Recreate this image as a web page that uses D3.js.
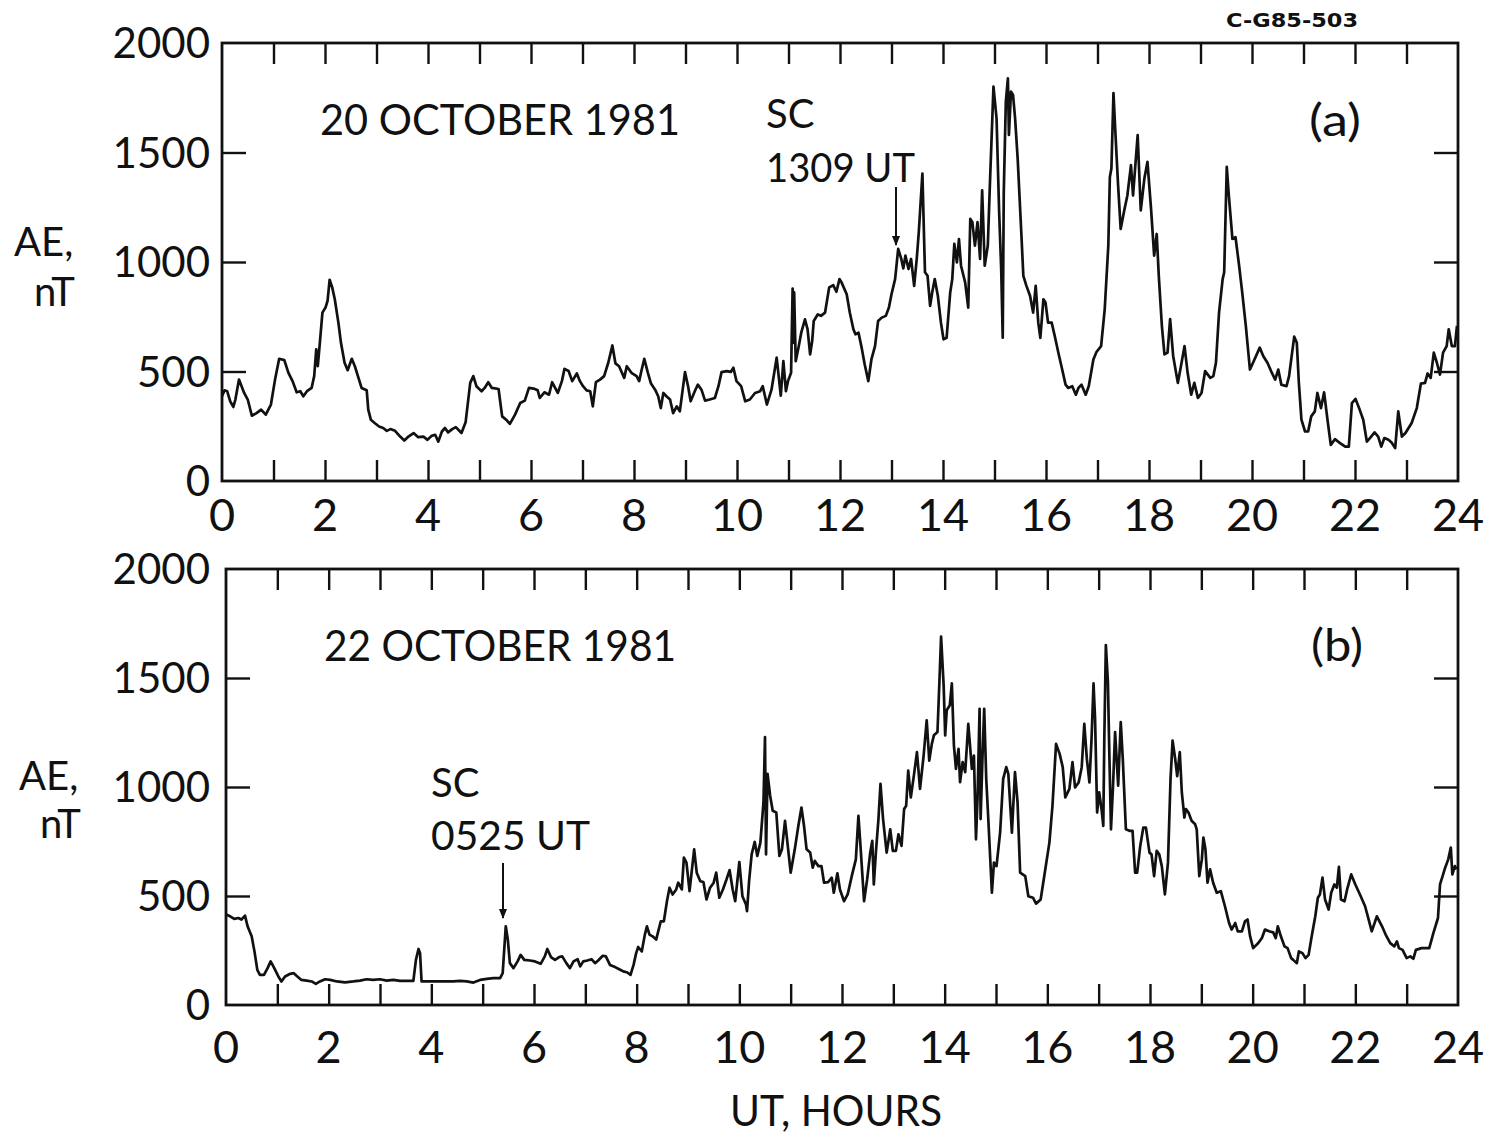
<!DOCTYPE html>
<html>
<head>
<meta charset="utf-8">
<script src="https://cdn.jsdelivr.net/npm/d3@7"></script>
<style>
  body { margin: 0; background: #fff; }
  svg { display: block; }
</style>
</head>
<body>
<script>
// AE index, 20 October 1981 (hours UT, nT)
const oct20 = [
  [0,387],[0.05,414],[0.1,410],[0.16,364],[0.22,338],[0.26,372],[0.33,463],[0.38,433],[0.43,402],[0.5,372],
  [0.58,298],[0.67,310],[0.76,326],[0.85,303],[0.95,349],[1.03,463],[1.11,558],[1.21,552],[1.29,494],[1.37,456],
  [1.45,405],[1.52,410],[1.58,387],[1.65,410],[1.74,425],[1.79,479],[1.83,601],[1.86,524],[1.9,631],[1.95,769],
  [2.01,792],[2.05,823],[2.09,919],[2.14,884],[2.19,830],[2.26,723],[2.31,631],[2.38,540],[2.44,506],[2.52,558],
  [2.58,524],[2.65,471],[2.71,425],[2.81,414],[2.84,326],[2.89,280],[2.97,264],[3.05,249],[3.13,242],[3.2,229],
  [3.27,237],[3.36,229],[3.46,203],[3.54,185],[3.62,203],[3.72,219],[3.81,200],[3.91,203],[3.99,188],[4.07,206],
  [4.14,211],[4.2,180],[4.27,226],[4.33,242],[4.39,222],[4.47,237],[4.54,246],[4.65,219],[4.73,268],[4.82,448],
  [4.88,479],[4.94,433],[5.04,410],[5.1,425],[5.17,451],[5.24,425],[5.37,420],[5.44,295],[5.53,277],[5.59,261],
  [5.69,303],[5.79,356],[5.88,367],[5.96,425],[6.05,422],[6.13,414],[6.17,379],[6.26,405],[6.35,394],[6.41,451],
  [6.52,402],[6.6,456],[6.65,512],[6.73,502],[6.8,456],[6.89,491],[6.95,456],[7.01,433],[7.08,414],[7.15,410],
  [7.2,341],[7.26,451],[7.34,463],[7.42,479],[7.5,540],[7.58,619],[7.64,537],[7.71,524],[7.81,471],[7.86,524],
  [7.95,494],[8.05,479],[8.1,456],[8.15,509],[8.2,558],[8.27,494],[8.33,445],[8.41,417],[8.47,387],[8.52,333],
  [8.57,402],[8.63,387],[8.7,372],[8.76,310],[8.83,341],[8.89,318],[8.99,497],[9.05,433],[9.1,364],[9.18,410],
  [9.24,440],[9.31,417],[9.38,367],[9.47,372],[9.57,379],[9.64,433],[9.7,497],[9.8,502],[9.88,498],[9.93,517],
  [9.99,456],[10.08,433],[10.16,364],[10.25,372],[10.35,402],[10.45,410],[10.5,433],[10.58,349],[10.67,417],[10.77,563],
  [10.82,456],[10.85,390],[10.9,547],[10.95,410],[10.99,456],[11.05,494],[11.08,879],[11.1,631],[11.11,861],[11.14,547],
  [11.2,616],[11.25,680],[11.32,738],[11.37,693],[11.42,578],[11.46,639],[11.49,731],[11.57,761],[11.63,754],[11.71,769],
  [11.79,884],[11.87,894],[11.93,864],[11.99,922],[12.03,907],[12.13,853],[12.19,769],[12.26,693],[12.3,670],[12.36,677],
  [12.42,609],[12.48,532],[12.55,456],[12.61,555],[12.68,616],[12.74,731],[12.81,746],[12.89,754],[12.95,792],[13.0,853],
  [13.07,922],[13.13,1060],[13.19,1014],[13.23,971],[13.27,1029],[13.33,968],[13.38,1014],[13.44,891],[13.49,1014],[13.53,1136],
  [13.6,1404],[13.65,953],[13.7,937],[13.75,800],[13.79,861],[13.84,922],[13.9,846],[13.96,723],[14.01,647],[14.07,654],
  [14.14,861],[14.18,922],[14.22,1083],[14.27,998],[14.31,1105],[14.35,983],[14.43,907],[14.49,792],[14.53,1197],[14.57,1182],
  [14.62,1075],[14.67,1182],[14.72,1014],[14.76,1327],[14.81,983],[14.87,1075],[14.91,1350],[14.98,1801],[15.04,1656],[15.09,1228],
  [15.13,968],[15.16,654],[15.18,1320],[15.22,1732],[15.26,1839],[15.28,1580],[15.32,1778],[15.36,1763],[15.4,1656],[15.45,1472],
  [15.52,1136],[15.56,937],[15.62,891],[15.69,846],[15.75,769],[15.8,891],[15.85,723],[15.89,654],[15.95,830],[15.99,815],
  [16.04,723],[16.11,723],[16.17,662],[16.24,586],[16.3,524],[16.38,440],[16.43,425],[16.51,433],[16.58,394],[16.63,425],
  [16.69,440],[16.77,394],[16.83,433],[16.92,555],[16.98,589],[17.07,616],[17.14,784],[17.21,1075],[17.24,1388],[17.27,1427],
  [17.31,1771],[17.35,1580],[17.4,1350],[17.45,1151],[17.52,1236],[17.58,1304],[17.65,1442],[17.69,1304],[17.78,1580],[17.84,1236],
  [17.91,1381],[17.97,1457],[18.04,1243],[18.1,1029],[18.15,1128],[18.19,937],[18.25,708],[18.3,578],[18.36,586],[18.41,739],
  [18.47,570],[18.56,448],[18.62,524],[18.69,616],[18.75,494],[18.82,394],[18.88,448],[18.95,379],[19.02,402],[19.09,502],
  [19.19,471],[19.25,479],[19.3,540],[19.36,769],[19.43,922],[19.46,953],[19.51,1434],[19.55,1304],[19.62,1106],[19.68,1113],
  [19.75,983],[19.81,861],[19.88,708],[19.96,509],[20.02,540],[20.15,609],[20.22,570],[20.3,540],[20.37,502],[20.45,463],
  [20.51,509],[20.57,440],[20.67,433],[20.72,479],[20.77,570],[20.82,659],[20.87,631],[20.91,448],[20.96,280],[21.03,226],
  [21.09,226],[21.15,295],[21.22,318],[21.27,402],[21.34,333],[21.4,405],[21.47,272],[21.53,165],[21.61,191],[21.71,173],
  [21.81,157],[21.88,157],[21.94,356],[22.01,375],[22.09,326],[22.16,280],[22.23,180],[22.29,196],[22.38,222],[22.45,203],
  [22.51,157],[22.57,196],[22.65,188],[22.71,176],[22.78,150],[22.84,318],[22.91,203],[22.98,219],[23.1,265],[23.2,333],
  [23.28,445],[23.36,448],[23.41,491],[23.47,471],[23.53,586],[23.59,540],[23.65,486],[23.71,586],[23.78,616],[23.82,693],
  [23.88,616],[23.94,616],[23.98,708]
];

// AE index, 22 October 1981 (hours UT, nT)
const oct22 = [
  [0,415],[0.08,407],[0.16,395],[0.24,399],[0.3,392],[0.37,410],[0.42,361],[0.5,315],[0.56,238],[0.61,161],
  [0.66,138],[0.74,138],[0.81,169],[0.87,200],[0.94,169],[1.02,131],[1.08,108],[1.15,131],[1.25,143],[1.32,146],
  [1.39,131],[1.47,115],[1.57,112],[1.67,108],[1.75,97],[1.83,108],[1.93,118],[2.03,115],[2.16,108],[2.32,104],
  [2.48,108],[2.61,112],[2.74,118],[2.87,115],[3.0,118],[3.13,112],[3.26,115],[3.39,111],[3.52,111],[3.65,111],
  [3.7,207],[3.75,257],[3.78,238],[3.81,108],[3.91,108],[4.17,108],[4.43,108],[4.56,111],[4.69,108],[4.82,103],
  [4.95,115],[5.08,120],[5.21,123],[5.34,123],[5.39,146],[5.45,361],[5.49,300],[5.53,192],[5.6,169],[5.68,200],
  [5.74,230],[5.81,207],[5.92,204],[6.02,200],[6.13,189],[6.21,223],[6.26,257],[6.33,220],[6.41,207],[6.49,220],
  [6.55,223],[6.63,192],[6.7,169],[6.77,200],[6.85,210],[6.9,177],[6.96,200],[7.04,204],[7.12,210],[7.19,192],
  [7.25,204],[7.34,226],[7.4,223],[7.48,184],[7.58,174],[7.66,164],[7.74,154],[7.82,149],[7.88,138],[7.94,184],
  [7.99,238],[8.03,266],[8.1,246],[8.16,323],[8.2,361],[8.25,323],[8.31,315],[8.38,300],[8.42,338],[8.47,384],
  [8.53,384],[8.59,476],[8.64,538],[8.7,507],[8.77,530],[8.81,561],[8.88,530],[8.92,676],[8.97,653],[9.03,522],
  [9.12,714],[9.17,607],[9.24,568],[9.3,564],[9.36,484],[9.43,538],[9.5,561],[9.55,607],[9.61,492],[9.68,530],
  [9.75,576],[9.81,619],[9.87,530],[9.92,476],[10.0,656],[10.06,499],[10.13,461],[10.15,430],[10.19,568],[10.24,691],
  [10.3,748],[10.35,684],[10.41,745],[10.47,929],[10.5,1229],[10.52,691],[10.55,1060],[10.6,960],[10.65,891],[10.72,883],
  [10.78,684],[10.83,714],[10.89,845],[10.93,760],[11.0,607],[11.08,714],[11.15,822],[11.21,906],[11.26,822],[11.31,714],
  [11.38,699],[11.43,630],[11.47,661],[11.54,637],[11.6,637],[11.65,561],[11.73,564],[11.8,584],[11.84,515],[11.91,604],
  [11.96,530],[12.04,476],[12.11,507],[12.19,591],[12.27,668],[12.32,868],[12.36,730],[12.43,476],[12.49,576],[12.55,699],
  [12.59,753],[12.62,553],[12.66,699],[12.71,853],[12.75,1014],[12.8,853],[12.87,699],[12.94,806],[12.99,707],[13.05,707],
  [13.1,783],[13.16,730],[13.21,899],[13.25,914],[13.29,1075],[13.34,952],[13.4,1052],[13.46,1160],[13.52,991],[13.59,1144],
  [13.65,1306],[13.7,1121],[13.75,1198],[13.79,1237],[13.86,1252],[13.9,1498],[13.93,1690],[13.98,1467],[14.01,1237],[14.04,1352],
  [14.1,1375],[14.14,1475],[14.18,1191],[14.22,1083],[14.27,1175],[14.3,1022],[14.35,1114],[14.4,1068],[14.46,1290],[14.53,1083],
  [14.57,1144],[14.61,760],[14.64,945],[14.68,1359],[14.7,853],[14.74,1160],[14.77,1359],[14.81,1037],[14.85,853],[14.92,515],
  [14.96,653],[15.01,637],[15.08,791],[15.14,1037],[15.2,1091],[15.24,1060],[15.31,791],[15.37,1068],[15.42,929],[15.47,607],
  [15.57,591],[15.63,499],[15.72,492],[15.78,465],[15.87,484],[15.95,607],[16.04,745],[16.1,914],[16.17,1198],[16.24,1152],
  [16.3,1091],[16.35,952],[16.43,991],[16.49,1114],[16.54,998],[16.61,1021],[16.67,1091],[16.72,1290],[16.77,1129],[16.82,1021],
  [16.86,1214],[16.9,1475],[16.93,1313],[16.97,883],[17.01,975],[17.06,891],[17.09,822],[17.11,1221],[17.14,1651],[17.18,1482],
  [17.21,1129],[17.24,806],[17.28,1006],[17.32,1252],[17.35,1129],[17.38,1006],[17.43,1298],[17.47,1129],[17.53,806],[17.6,799],
  [17.66,799],[17.71,607],[17.75,607],[17.81,730],[17.87,814],[17.92,814],[17.99,699],[18.03,691],[18.08,591],[18.13,707],
  [18.18,691],[18.23,637],[18.29,507],[18.35,653],[18.4,1037],[18.44,1213],[18.49,1130],[18.53,1050],[18.58,1160],[18.62,975],
  [18.67,860],[18.7,899],[18.75,883],[18.81,845],[18.88,829],[18.91,806],[18.96,591],[19.01,668],[19.04,768],[19.08,714],
  [19.12,561],[19.17,622],[19.23,561],[19.3,515],[19.38,522],[19.46,453],[19.54,376],[19.59,346],[19.66,376],[19.71,338],
  [19.79,338],[19.85,384],[19.9,392],[19.95,315],[20.01,261],[20.11,284],[20.18,307],[20.24,346],[20.32,338],[20.4,333],
  [20.45,307],[20.49,361],[20.55,315],[20.62,269],[20.68,261],[20.75,215],[20.79,207],[20.86,192],[20.9,246],[20.97,238],
  [21.03,215],[21.09,230],[21.15,315],[21.22,407],[21.27,492],[21.31,507],[21.36,584],[21.41,484],[21.48,438],[21.53,515],
  [21.59,553],[21.64,538],[21.68,634],[21.72,484],[21.79,476],[21.84,530],[21.92,599],[22.0,553],[22.09,507],[22.19,453],
  [22.26,392],[22.32,338],[22.42,407],[22.52,361],[22.59,323],[22.68,284],[22.76,269],[22.81,292],[22.85,261],[22.92,253],
  [23.0,215],[23.07,223],[23.13,212],[23.18,253],[23.29,261],[23.44,261],[23.52,330],[23.61,399],[23.65,553],[23.7,591],
  [23.75,630],[23.81,668],[23.86,722],[23.89,599],[23.94,637],[23.97,622]
];

const xLabels = d3.range(0, 25, 2);          // 0, 2, ... 24
const yLabels = [0, 500, 1000, 1500, 2000];
const yInnerTicks = [500, 1000, 1500];
const hourTicks = d3.range(1, 24);

const W = 1490, H = 1137;
const FONT = "Lato, 'DejaVu Sans', sans-serif";
const INK = "#111";

const svg = d3.select("body").append("svg")
    .attr("width", W)
    .attr("height", H)
    .attr("font-family", FONT)
    .attr("fill", INK);

// arrowhead
svg.append("defs").append("marker")
    .attr("id", "arrow")
    .attr("viewBox", "0 0 10 10")
    .attr("refX", 9).attr("refY", 5)
    .attr("markerUnits", "userSpaceOnUse")
    .attr("markerWidth", 16).attr("markerHeight", 10)
    .attr("orient", "auto")
    .append("path")
    .attr("d", "M0,1 L10,5 L0,9 Z")
    .attr("fill", INK);

const panels = [
    {data: oct20, left: 222, right: 1458, top: 43, bottom: 481,
     title: "20 OCTOBER 1981", titleX: 320, titleY: 135, titleLen: 360,
     tag: "(a)", tagX: 1309, tagY: 136,
     sc: "1309 UT", scX: 766, scY1: 128, scY2: 182, scLen: 149,
     arrowX: 896, arrowY1: 187, arrowY2: 245,
     aeY: 256, ntY: 306, aeX: 14, ntX: 34, labelY: 531},
    {data: oct22, left: 226, right: 1458, top: 569, bottom: 1005,
     title: "22 OCTOBER 1981", titleX: 324, titleY: 661, titleLen: 352,
     tag: "(b)", tagX: 1311, tagY: 661,
     sc: "0525 UT", scX: 431, scY1: 797, scY2: 850, scLen: 159,
     arrowX: 503, arrowY1: 863, arrowY2: 918,
     aeY: 790, ntY: 838, aeX: 19, ntX: 40, labelY: 1063}
];

panels.forEach(p => {
    const x = d3.scaleLinear().domain([0, 24]).range([p.left, p.right]);
    const y = d3.scaleLinear().domain([0, 2000]).range([p.bottom, p.top]);
    const g = svg.append("g");

    // inward hour ticks, top and bottom; value ticks left and right
    g.append("g")
        .attr("transform", `translate(0,${p.bottom})`)
        .call(d3.axisBottom(x).tickValues(hourTicks).tickSizeInner(-21).tickSizeOuter(0).tickFormat(""))
        .call(a => a.select(".domain").remove());
    g.append("g")
        .attr("transform", `translate(0,${p.top})`)
        .call(d3.axisTop(x).tickValues(hourTicks).tickSizeInner(-21).tickSizeOuter(0).tickFormat(""))
        .call(a => a.select(".domain").remove());
    g.append("g")
        .attr("transform", `translate(${p.left},0)`)
        .call(d3.axisLeft(y).tickValues(yInnerTicks).tickSizeInner(-24).tickSizeOuter(0).tickFormat(""))
        .call(a => a.select(".domain").remove());
    g.append("g")
        .attr("transform", `translate(${p.right},0)`)
        .call(d3.axisRight(y).tickValues(yInnerTicks).tickSizeInner(-24).tickSizeOuter(0).tickFormat(""))
        .call(a => a.select(".domain").remove());
    g.selectAll(".tick line").attr("stroke", INK).attr("stroke-width", 2.4);

    // frame
    g.append("rect")
        .attr("x", p.left).attr("y", p.top)
        .attr("width", p.right - p.left).attr("height", p.bottom - p.top)
        .attr("fill", "none").attr("stroke", INK).attr("stroke-width", 2.8);

    // data
    const line = d3.line().x(d => x(d[0])).y(d => y(d[1]));
    g.append("path")
        .attr("d", line(p.data))
        .attr("fill", "none")
        .attr("stroke", INK)
        .attr("stroke-width", 2.7)
        .attr("stroke-linejoin", "round");

    // tick labels
    g.selectAll(".xl").data(xLabels).join("text")
        .attr("x", d => x(d))
        .attr("y", p.labelY)
        .attr("text-anchor", "middle")
        .attr("font-size", 45)
        .text(d => d);
    g.selectAll(".yl").data(yLabels).join("text")
        .attr("x", 210)
        .attr("y", d => y(d))
        .attr("dy", "0.36em")
        .attr("text-anchor", "end")
        .attr("font-size", 42)
        .text(d => d);

    // y axis title
    g.append("text").attr("x", p.aeX).attr("y", p.aeY).attr("font-size", 40).text("AE,");
    g.append("text").attr("x", p.ntX).attr("y", p.ntY).attr("font-size", 40).text("nT");

    // annotations
    g.append("text")
        .attr("x", p.titleX).attr("y", p.titleY)
        .attr("font-size", 42)
        .attr("textLength", p.titleLen).attr("lengthAdjust", "spacingAndGlyphs")
        .text(p.title);
    g.append("text")
        .attr("x", p.tagX).attr("y", p.tagY)
        .attr("font-size", 44)
        .attr("textLength", 52).attr("lengthAdjust", "spacingAndGlyphs")
        .text(p.tag);
    g.append("text")
        .attr("x", p.scX).attr("y", p.scY1)
        .attr("font-size", 40)
        .text("SC");
    g.append("text")
        .attr("x", p.scX).attr("y", p.scY2)
        .attr("font-size", 40)
        .attr("textLength", p.scLen).attr("lengthAdjust", "spacingAndGlyphs")
        .text(p.sc);
    g.append("line")
        .attr("x1", p.arrowX).attr("x2", p.arrowX)
        .attr("y1", p.arrowY1).attr("y2", p.arrowY2)
        .attr("stroke", INK).attr("stroke-width", 2)
        .attr("marker-end", "url(#arrow)");
});

// axis title and figure id
svg.append("text")
    .attr("x", 730).attr("y", 1126)
    .attr("font-size", 42)
    .attr("textLength", 212).attr("lengthAdjust", "spacingAndGlyphs")
    .text("UT, HOURS");

svg.append("text")
    .attr("x", 1226).attr("y", 27)
    .attr("font-size", 20)
    .attr("font-weight", 700)
    .attr("font-family", "'DejaVu Sans', sans-serif")
    .attr("textLength", 132).attr("lengthAdjust", "spacingAndGlyphs")
    .text("C-G85-503");
</script>
</body>
</html>
